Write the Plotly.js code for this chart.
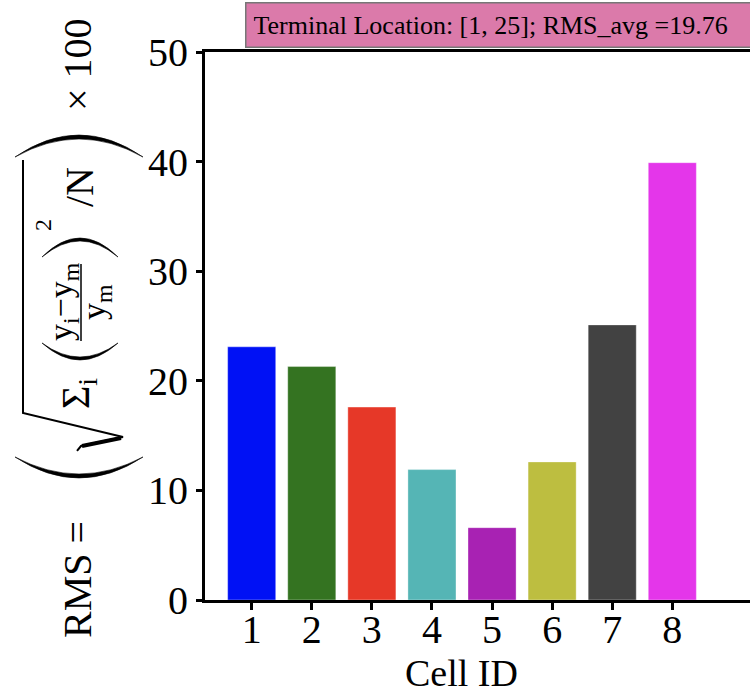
<!DOCTYPE html>
<html>
<head>
<meta charset="utf-8">
<script src="https://cdn.plot.ly/plotly-3.0.1.min.js"></script>
<style>html,body{margin:0;padding:0;background:#fff;}#chart{width:750px;height:695px;}</style>
</head>
<body>
<div id="chart"></div>
<script>
// ---- data ----
const cellIds = [1, 2, 3, 4, 5, 6, 7, 8];
const rmsValues = [23.1, 21.3, 17.6, 11.9, 6.6, 12.6, 25.1, 39.9];
const barColors = ['#0011f5', '#347321', '#e63828', '#55b5b5', '#a822b3', '#bdbe40', '#424242', '#e436ea'];
const yTickVals = [0, 10, 20, 30, 40, 50];
const titleText = 'Terminal Location: [1, 25]; RMS_avg =19.76';

// ---- layout geometry ----
const W = 750, H = 695;
const M = {l: 205, r: 0, t: 52, b: 95};
const PW = W - M.l - M.r, PH = H - M.t - M.b;
const FONT = '"Liberation Serif", "DejaVu Serif", serif';
function px(x) { return (x - M.l) / PW; }
function py(y) { return (H - M.b - y) / PH; }
function pathFrom(cmds) {
  return cmds.map(c => {
    const out = [c[0]];
    for (let i = 1; i < c.length; i += 2) out.push(px(c[i]).toFixed(5) + ',' + py(c[i + 1]).toFixed(5));
    return out.join(' ');
  }).join(' ');
}
function rot(text, x, y, size) {
  return {text: text, xref: 'paper', yref: 'paper', x: px(x), y: py(y), xanchor: 'center', yanchor: 'middle',
    textangle: -90, showarrow: false, font: {family: FONT, size: size, color: '#000'}};
}

const annotations = [
  rot('RMS =', 77, 580, 40),
  rot('Σ<sub>i</sub>', 78, 394, 40),
  rot('y<sub>i</sub>−y<sub>m</sub>', 63, 302, 34),
  rot('y<sub>m</sub>', 96, 302, 34),
  rot('2', 43, 225, 24),
  rot('/N', 80, 187, 40),
  rot('× 100', 77, 65, 40),
  {text: 'Cell ID', xref: 'paper', yref: 'paper', x: px(461), y: py(673), xanchor: 'center', yanchor: 'middle',
    showarrow: false, font: {family: FONT, size: 38, color: '#000'}},
  {text: titleText, xref: 'paper', yref: 'paper', x: px(245), y: py(2), xanchor: 'left', yanchor: 'top',
    showarrow: false, align: 'left', width: 540, bgcolor: '#db7aaa', bordercolor: '#777777', borderwidth: 1.5,
    borderpad: 7, font: {family: FONT, size: 26, color: '#000'}}
];

const blackFill = {xref: 'paper', yref: 'paper', type: 'path', fillcolor: '#000', line: {width: 0.6, color: '#000'}, layer: 'above'};
const shapes = [
  // big left paren
  Object.assign({}, blackFill, {path: pathFrom([['M', 15, 457], ['Q', 79, 499, 143, 457], ['Q', 79, 491, 15, 457], ['Z']])}),
  // big right paren
  Object.assign({}, blackFill, {path: pathFrom([['M', 15, 157], ['Q', 79, 113, 143, 157], ['Q', 79, 121, 15, 157], ['Z']])}),
  // small left paren
  Object.assign({}, blackFill, {path: pathFrom([['M', 42, 343], ['Q', 80, 377, 118, 343], ['Q', 80, 371, 42, 343], ['Z']])}),
  // small right paren
  Object.assign({}, blackFill, {path: pathFrom([['M', 42, 257], ['Q', 80, 219, 118, 257], ['Q', 80, 225, 42, 257], ['Z']])}),
  // radical
  {xref: 'paper', yref: 'paper', type: 'path', layer: 'above', line: {width: 2, color: '#000'},
    path: pathFrom([['M', 77, 451], ['L', 81, 446], ['L', 123, 437], ['L', 23, 413], ['L', 23, 160]])},
  {xref: 'paper', yref: 'paper', type: 'path', layer: 'above', line: {width: 4, color: '#000'},
    path: pathFrom([['M', 82, 446], ['L', 121, 438]])},
  // fraction bar
  {xref: 'paper', yref: 'paper', type: 'path', layer: 'above', line: {width: 1.5, color: '#000'},
    path: pathFrom([['M', 81, 264], ['L', 81, 341]])}
];

const trace = {
  type: 'bar', x: cellIds, y: rmsValues,
  marker: {color: barColors, line: {width: 0.6, color: 'rgba(255,255,255,0.6)'}},
  width: 0.8, hoverinfo: 'skip'
};

const layout = {
  width: W, height: H,
  margin: M,
  paper_bgcolor: '#fff', plot_bgcolor: '#fff',
  showlegend: false,
  font: {family: FONT, color: '#000'},
  xaxis: {
    range: [0.223, 9.293], tickvals: cellIds, ticktext: cellIds.map(String),
    showgrid: false, zeroline: false, showline: true, linecolor: '#000', linewidth: 3, mirror: true,
    ticks: 'outside', ticklen: 7, tickwidth: 3, tickcolor: '#000', ticklabelstandoff: -15,
    tickfont: {family: FONT, size: 40, color: '#000'}
  },
  yaxis: {
    range: [0, 50], tickvals: yTickVals, ticktext: yTickVals.map(String),
    showgrid: false, zeroline: false, showline: true, linecolor: '#000', linewidth: 3, mirror: false,
    ticks: 'outside', ticklen: 6, tickwidth: 3, tickcolor: '#000',
    tickfont: {family: FONT, size: 40, color: '#000'}
  },
  annotations: annotations,
  shapes: shapes
};

Plotly.newPlot('chart', [trace], layout, {staticPlot: true, displayModeBar: false});
</script>
</body>
</html>
